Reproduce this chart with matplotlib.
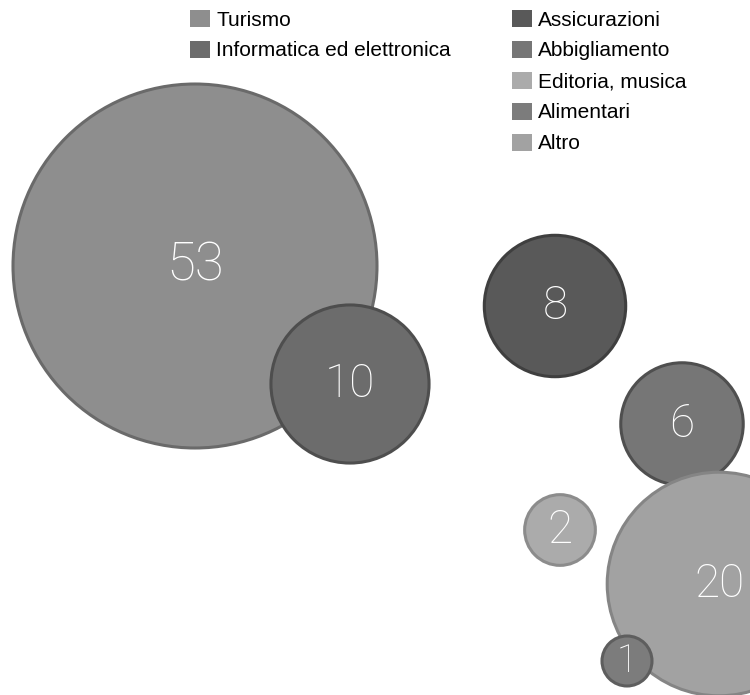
import matplotlib
matplotlib.use("Agg")
import matplotlib.pyplot as plt
from matplotlib.patches import Circle, Patch
import numpy as np

plt.rcParams['font.family'] = ['Liberation Sans', 'DejaVu Sans']

# dati
categorie = ['Turismo', 'Informatica ed elettronica', 'Assicurazioni',
             'Abbigliamento', 'Editoria, musica', 'Alimentari', 'Altro']
valori = [53, 10, 8, 6, 2, 1, 20]

# colori (riempimento / bordo)
riempimento = ['#8e8e8e', '#6c6c6c', '#595959', '#767676', '#ababab', '#7c7c7c', '#a2a2a2']
bordo = ['#6a6a6a', '#4e4e4e', '#3f3f3f', '#4f4f4f', '#8c8c8c', '#5e5e5e', '#858585']

# posizione dei centri delle bolle (layout, in pixel)
centro_x = [195, 350, 555, 682, 560, 627, 719]
centro_y = [266, 384, 306, 424, 530, 661, 584]
ordine = [0, 1, 2, 3, 6, 4, 5]   # ordine di disegno

k = 182 / np.sqrt(53)   # area proporzionale al valore

fig = plt.figure(figsize=(7.5, 6.95), dpi=100)
ax = fig.add_axes([0, 0, 1, 1])
ax.set_xlim(0, 750)
ax.set_ylim(695, 0)
ax.set_aspect('equal')
ax.axis('off')

for z, i in enumerate(ordine):
    r = k * np.sqrt(valori[i])
    ax.add_patch(Circle((centro_x[i], centro_y[i]), r, facecolor=riempimento[i],
                        edgecolor=bordo[i], linewidth=2.2, zorder=2 + z))
    fs = 38 if valori[i] == 53 else (27 if valori[i] == 1 else 33)
    ax.text(centro_x[i], centro_y[i], str(valori[i]), color='white', fontsize=fs,
            family=['Roboto', 'DejaVu Sans'], fontweight='light',
            ha='center', va='center', zorder=20)

# legende
maniglie = [Patch(facecolor=riempimento[i], edgecolor='none') for i in range(len(categorie))]
stile = dict(loc='upper left', frameon=False, fontsize=15, handlelength=0.95,
             handleheight=0.85, handletextpad=0.3, labelspacing=0.55,
             borderpad=0, borderaxespad=0)
leg1 = ax.legend(maniglie[:2], categorie[:2],
                 bbox_to_anchor=(190 / 750, 1 - 10 / 695), **stile)
ax.add_artist(leg1)
ax.legend(maniglie[2:], categorie[2:],
          bbox_to_anchor=(512 / 750, 1 - 10 / 695), **stile)

fig.savefig('out.png', dpi=100)
